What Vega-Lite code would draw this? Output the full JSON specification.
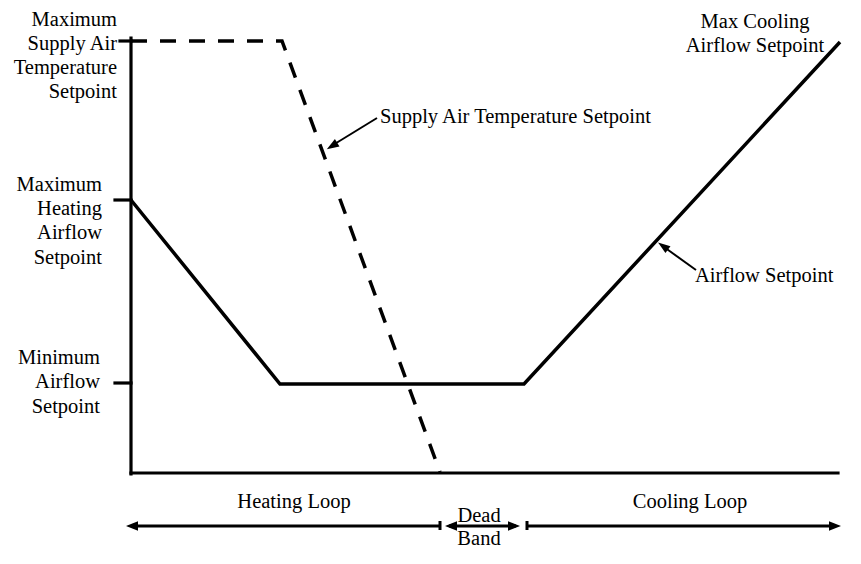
{
  "$schema": "https://vega.github.io/schema/vega-lite/v6.json",
  "width": 861,
  "height": 564,
  "autosize": {"type": "fit", "contains": "padding"},
  "padding": 0,
  "background": "white",
  "config": {"view": {"stroke": null}, "axis": {"disable": true}},
  "datasets": {
    "rules": [
      {"grp": "axis", "x": 0, "y": 434, "x2": 0, "y2": -2},
      {"grp": "axis", "x": 0, "y": -1, "x2": 707, "y2": -1},
      {"grp": "axis", "x": -11, "y": 431, "x2": 0, "y2": 431},
      {"grp": "axis", "x": -16, "y": 272, "x2": 0, "y2": 272},
      {"grp": "axis", "x": -16, "y": 89, "x2": 0, "y2": 89},
      {"grp": "span", "x": 0, "y": -54, "x2": 310, "y2": -54},
      {"grp": "span", "x": 309, "y": -49, "x2": 309, "y2": -58},
      {"grp": "span", "x": 318, "y": -54, "x2": 385, "y2": -54},
      {"grp": "span", "x": 396, "y": -49, "x2": 396, "y2": -58},
      {"grp": "span", "x": 396, "y": -54, "x2": 700, "y2": -54},
      {"grp": "leader", "x": 246, "y": 354, "x2": 202, "y2": 327},
      {"grp": "leader", "x": 565, "y": 202, "x2": 533, "y2": 225}
    ],
    "curves": [
      {"series": "Airflow Setpoint", "ord": 1, "x": 0, "y": 272},
      {"series": "Airflow Setpoint", "ord": 2, "x": 149, "y": 88},
      {"series": "Airflow Setpoint", "ord": 3, "x": 393, "y": 88},
      {"series": "Airflow Setpoint", "ord": 4, "x": 709, "y": 430},
      {"series": "Supply Air Temperature Setpoint", "ord": 1, "x": 0, "y": 431},
      {"series": "Supply Air Temperature Setpoint", "ord": 2, "x": 151, "y": 431},
      {"series": "Supply Air Temperature Setpoint", "ord": 3, "x": 309, "y": 0}
    ],
    "heads": [
      {"grp": "leader", "x": 201, "y": 326, "dir": 238},
      {"grp": "leader", "x": 532, "y": 226, "dir": 306},
      {"grp": "span", "x": 1, "y": -54, "dir": 270},
      {"grp": "span", "x": 320, "y": -54, "dir": 270},
      {"grp": "span", "x": 383, "y": -54, "dir": 90},
      {"grp": "span", "x": 704, "y": -54, "dir": 90}
    ],
    "labels": [
      {"al": "right", "x": -14, "y": 446, "t": "Maximum"},
      {"al": "right", "x": -14, "y": 422, "t": "Supply Air"},
      {"al": "right", "x": -14, "y": 398, "t": "Temperature"},
      {"al": "right", "x": -14, "y": 374, "t": "Setpoint"},
      {"al": "right", "x": -29, "y": 281, "t": "Maximum"},
      {"al": "right", "x": -29, "y": 257, "t": "Heating"},
      {"al": "right", "x": -29, "y": 233, "t": "Airflow"},
      {"al": "right", "x": -29, "y": 208, "t": "Setpoint"},
      {"al": "right", "x": -31, "y": 108, "t": "Minimum"},
      {"al": "right", "x": -31, "y": 84, "t": "Airflow"},
      {"al": "right", "x": -31, "y": 59, "t": "Setpoint"},
      {"al": "left", "x": 249, "y": 349, "t": "Supply Air Temperature Setpoint"},
      {"al": "left", "x": 564, "y": 190, "t": "Airflow Setpoint"},
      {"al": "center", "x": 624, "y": 444, "t": "Max Cooling"},
      {"al": "center", "x": 624, "y": 420, "t": "Airflow Setpoint"},
      {"al": "center", "x": 163, "y": -36, "t": "Heating Loop"},
      {"al": "center", "x": 559, "y": -36, "t": "Cooling Loop"},
      {"al": "center", "x": 348, "y": -50, "t": "Dead"},
      {"al": "center", "x": 348, "y": -73, "t": "Band"}
    ]
  },
  "resolve": {"scale": {"x": "shared", "y": "shared"}},
  "encoding": {
    "x": {"field": "x", "type": "quantitative", "scale": {"domain": [-131, 730], "nice": false, "zero": false}, "axis": null},
    "y": {"field": "y", "type": "quantitative", "scale": {"domain": [-92, 472], "nice": false, "zero": false}, "axis": null}
  },
  "layer": [
    {
      "data": {"name": "rules"},
      "transform": [{"filter": "datum.grp === 'axis'"}],
      "mark": {"type": "rule", "color": "black", "strokeWidth": 3.2, "strokeCap": "square"},
      "encoding": {"x2": {"field": "x2"}, "y2": {"field": "y2"}}
    },
    {
      "data": {"name": "rules"},
      "transform": [{"filter": "datum.grp === 'span'"}],
      "mark": {"type": "rule", "color": "black", "strokeWidth": 3},
      "encoding": {"x2": {"field": "x2"}, "y2": {"field": "y2"}}
    },
    {
      "data": {"name": "rules"},
      "transform": [{"filter": "datum.grp === 'leader'"}],
      "mark": {"type": "rule", "color": "black", "strokeWidth": 2},
      "encoding": {"x2": {"field": "x2"}, "y2": {"field": "y2"}}
    },
    {
      "data": {"name": "curves"},
      "transform": [{"filter": "datum.series === 'Airflow Setpoint'"}],
      "mark": {"type": "line", "color": "black", "strokeWidth": 3.5, "strokeJoin": "miter"},
      "encoding": {"order": {"field": "ord", "type": "quantitative"}}
    },
    {
      "data": {"name": "curves"},
      "transform": [{"filter": "datum.series === 'Supply Air Temperature Setpoint'"}],
      "mark": {"type": "line", "color": "black", "strokeWidth": 3.5, "strokeDash": [16, 13], "strokeJoin": "miter"},
      "encoding": {"order": {"field": "ord", "type": "quantitative"}}
    },
    {
      "data": {"name": "heads"},
      "transform": [{"filter": "datum.grp === 'leader'"}],
      "mark": {"type": "point", "shape": "M0,-1L0.7,1L-0.7,1Z", "filled": true, "color": "black", "opacity": 1, "size": 150},
      "encoding": {"angle": {"field": "dir", "type": "quantitative", "scale": null}}
    },
    {
      "data": {"name": "heads"},
      "transform": [{"filter": "datum.grp === 'span'"}],
      "mark": {"type": "point", "shape": "M0,-1L0.8,1L-0.8,1Z", "filled": true, "color": "black", "opacity": 1, "size": 144},
      "encoding": {"angle": {"field": "dir", "type": "quantitative", "scale": null}}
    },
    {
      "data": {"name": "labels"},
      "transform": [{"filter": "datum.al === 'right'"}],
      "mark": {"type": "text", "align": "right", "baseline": "alphabetic", "font": "Liberation Serif", "fontSize": 20.5, "color": "black"},
      "encoding": {"text": {"field": "t"}}
    },
    {
      "data": {"name": "labels"},
      "transform": [{"filter": "datum.al === 'left'"}],
      "mark": {"type": "text", "align": "left", "baseline": "alphabetic", "font": "Liberation Serif", "fontSize": 20.5, "color": "black"},
      "encoding": {"text": {"field": "t"}}
    },
    {
      "data": {"name": "labels"},
      "transform": [{"filter": "datum.al === 'center'"}],
      "mark": {"type": "text", "align": "center", "baseline": "alphabetic", "font": "Liberation Serif", "fontSize": 20.5, "color": "black"},
      "encoding": {"text": {"field": "t"}}
    }
  ]
}
